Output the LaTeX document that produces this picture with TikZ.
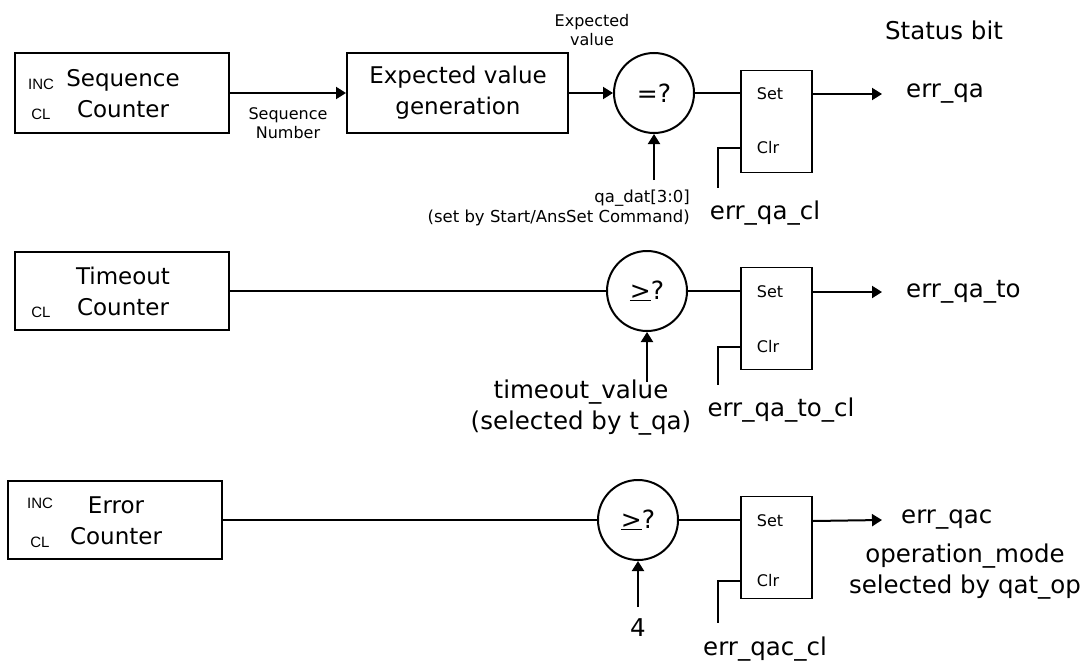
\documentclass[tikz,border=0pt]{standalone}
\usepackage{fontspec}
\setmainfont{DejaVu Sans}
\newfontfamily\arialf{Liberation Sans}
\usetikzlibrary{arrows.meta,calc}
\newcommand{\myge}{\underline{>}}
\begin{document}
\begin{tikzpicture}[x=1pt,y=-1pt,
  big/.style={font=\fontsize{23}{31}\selectfont, inner sep=0pt, align=center},
  lbl/.style={font=\fontsize{24.5}{31}\selectfont, inner sep=0pt, align=center},
  mid/.style={font=\fontsize{16}{19}\selectfont, inner sep=0pt, align=center},
  sml/.style={font=\fontsize{16}{18}\selectfont, inner sep=0pt},
  pin/.style={font=\arialf\fontsize{15}{17}\selectfont, inner sep=0pt},
  blk/.style={draw, line width=2pt, minimum width=214pt, minimum height=79pt, inner sep=0pt},
  cmpc/.style={draw, circle, line width=2pt, minimum size=80pt, inner sep=0pt, font=\fontsize{25}{28}\selectfont},
  srbox/.style={draw, line width=1.8pt, minimum width=71pt, minimum height=102pt, inner sep=0pt},
  wire/.style={line width=2pt},
  arr/.style={line width=2pt, -{Triangle[length=10pt,width=12pt]}}
]
\useasboundingbox (0,0) rectangle (1083,661);

% ---------- Row 1 ----------
\node[blk] (seq) at (122,93) {};
\node[pin] (seqinc) at (41,84) {INC};
\node[pin] (seqcl) at (41,114) {CL};
\node[big] (seqt) at (123,94) {Sequence\\Counter};
\node[blk, minimum width=221pt, minimum height=80pt] (gen) at (457.5,93) {};
\node[big] (gent) at (458,93) {Expected value\\generation};
\node[mid] (seqnum) at (288,123.5) {Sequence\\Number};
\draw[arr] (seq.east) -- (gen.west);
\node[cmpc] (cmp1) at (654,93) {=?};
\node[mid] (expv) at (592,30.5) {Expected\\value};
\draw[arr] (gen.east) -- (cmp1.west);
\coordinate (qa) at (654,180);
\draw[arr] (qa) -- (cmp1.south);
\node[mid, font=\fontsize{16.5}{20}\selectfont, anchor=north east, align=right] (qadat) at (690,190) {qa\_dat[3:0]\\(set by Start/AnsSet Command)};
\node[srbox] (sr1) at (776.5,121.5) {};
\node[sml] (set1) at (770,94) {Set};
\node[sml] (clr1) at (768,148) {Clr};
\draw[wire] (cmp1.east) -- (cmp1.east -| sr1.west);
\coordinate (c1) at (718,188);
\draw[wire] (clr1 -| sr1.west) -| (c1);
\node[lbl] (errqacl) at (765,213) {err\_qa\_cl};
\coordinate (o1) at (882,94);
\draw[arr] (set1 -| sr1.east) -- (o1);
\node[lbl, anchor=west] (errqa) at (906,94) {err\_qa};
\node[lbl] (status) at (944,30) {Status bit};

% ---------- Row 2 ----------
\node[blk, minimum height=78pt] (tmo) at (122,291) {};
\node[pin] (tmocl) at (41,312) {CL};
\node[big] (tmot) at (123,291) {Timeout\\Counter};
\node[cmpc] (cmp2) at (647,291) {\myge?};
\draw[wire] (tmo.east) -- (cmp2.west);
\coordinate (tv) at (647,382);
\draw[arr] (tv) -- (cmp2.south);
\node[lbl] (tval) at (581,408) {timeout\_value\\(selected by t\_qa)};
\node[srbox] (sr2) at (776.5,318.5) {};
\node[sml] (set2) at (770,292) {Set};
\node[sml] (clr2) at (768,347) {Clr};
\draw[wire] (cmp2.east) -- (cmp2.east -| sr2.west);
\coordinate (c2) at (718,385);
\draw[wire] (clr2 -| sr2.west) -| (c2);
\node[lbl] (errqatocl) at (781,410) {err\_qa\_to\_cl};
\coordinate (o2) at (882,292);
\draw[arr] (set2 -| sr2.east) -- (o2);
\node[lbl, anchor=west] (errqato) at (906,292) {err\_qa\_to};

% ---------- Row 3 ----------
\node[blk, minimum height=78pt] (ecn) at (115,520) {};
\node[pin] (ecninc) at (40,503) {INC};
\node[pin] (ecncl) at (40,542) {CL};
\node[big] (ecnt) at (116,521) {Error\\Counter};
\node[cmpc] (cmp3) at (638,520) {\myge?};
\draw[wire] (ecn.east) -- (cmp3.west);
\coordinate (four) at (638,607);
\draw[arr] (four) -- (cmp3.south);
\node[lbl] (fourt) at (638,628) {4};
\node[srbox] (sr3) at (776.5,547.5) {};
\node[sml] (set3) at (770,521) {Set};
\node[sml] (clr3) at (768,581) {Clr};
\draw[wire] (cmp3.east) -- (cmp3.east -| sr3.west);
\coordinate (c3) at (718,623);
\draw[wire] (clr3 -| sr3.west) -| (c3);
\node[lbl] (errqaccl) at (765,649) {err\_qac\_cl};
\coordinate (o3) at (882,520);
\draw[arr] (set3 -| sr3.east) -- (o3);
\node[lbl, anchor=west] (errqac) at (901,520) {err\_qac};
\node[lbl] (opmode) at (965,572) {operation\_mode\\selected by qat\_op};
\end{tikzpicture}
\end{document}
